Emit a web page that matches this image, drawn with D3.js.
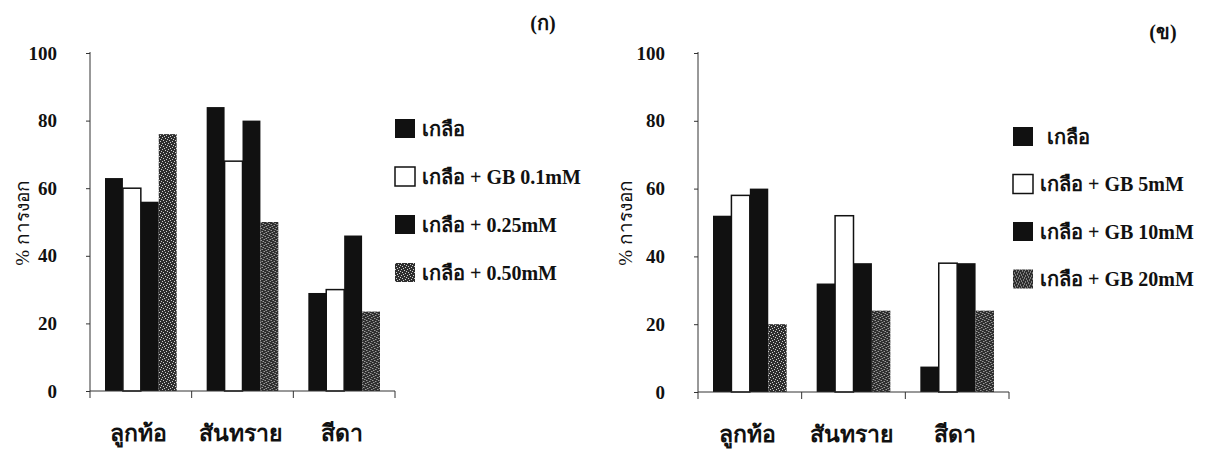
<!DOCTYPE html>
<html>
<head>
<meta charset="utf-8">
<script src="https://cdnjs.cloudflare.com/ajax/libs/d3/7.8.5/d3.min.js"></script>
<style>
  body { margin: 0; background: #fff; }
  svg { display: block; }
  text { font-family: "Liberation Serif", "DejaVu Serif", serif; font-weight: bold; fill: #111; }
</style>
</head>
<body>
<div id="data"></div>
<script>
var categories = ["ลูกท้อ", "สันทราย", "สีดา"];
var yTicks = [0, 20, 40, 60, 80, 100];

var seriesA = ["เกลือ", "เกลือ + GB 0.1mM", "เกลือ + 0.25mM", "เกลือ + 0.50mM"];
var valuesA = [
  [63, 60, 56, 76],
  [84, 68, 80, 50],
  [29, 30, 46, 23.5]
];

var seriesB = ["เกลือ", "เกลือ + GB 5mM", "เกลือ + GB 10mM", "เกลือ + GB 20mM"];
var valuesB = [
  [52, 58, 60, 20],
  [32, 52, 38, 24],
  [7.5, 38, 38, 24]
];

var svg = d3.select("#data").append("svg").attr("width", 1206).attr("height", 451);

// speckled fill for the last series
var pat = svg.append("defs").append("pattern")
    .attr("id", "speckle")
    .attr("width", 6).attr("height", 6)
    .attr("patternUnits", "userSpaceOnUse");
pat.append("rect").attr("width", 6).attr("height", 6).attr("fill", "#2e2e2e");
[[0,0],[3,1],[1,3],[4,4],[5,2],[2,5]].forEach(function(p) {
  pat.append("rect").attr("x", p[0]).attr("y", p[1]).attr("width", 1).attr("height", 1).attr("fill", "#cfcfcf");
});

var fills = ["#111", "#fff", "#111", "url(#speckle)"];

function makePanel(config) {
  var width = config.width,
      height = config.height,
      g = svg.append("g").attr("transform", "translate(" + config.left + "," + config.top + ")");

  var x0 = d3.scaleBand().domain(categories).range([0, width]);
  var x1 = d3.scaleBand().domain(d3.range(4)).range([15, x0.bandwidth() - 15]);
  var y = d3.scaleLinear().domain([0, 100]).range([height, 0]);

  g.append("g")
    .selectAll("g")
    .data(config.values)
    .enter().append("g")
      .attr("transform", function(d, i) { return "translate(" + x0(categories[i]) + ",0)"; })
    .selectAll("rect")
    .data(function(d) { return d.map(function(v, k) { return {key: k, value: v}; }); })
    .enter().append("rect")
      .attr("x", function(d) { return x1(d.key); })
      .attr("y", function(d) { return y(d.value); })
      .attr("width", x1.bandwidth())
      .attr("height", function(d) { return height - y(d.value); })
      .attr("fill", function(d) { return fills[d.key]; })
      .attr("stroke", function(d) { return d.key == 1 ? "#111" : "none"; })
      .attr("stroke-width", 1.5);

  // y axis
  var ya = g.append("g")
      .call(d3.axisLeft(y).tickValues(yTicks).tickSize(4).tickPadding(29));
  ya.select(".domain").remove();
  ya.append("line").attr("x1", 0).attr("x2", 0).attr("y1", -1).attr("y2", height + 7)
      .attr("stroke", "#333").attr("stroke-width", 1);
  ya.selectAll(".tick line").attr("stroke", "#333");
  ya.selectAll(".tick text")
      .style("font-size", "19px")
      .style("font-family", "'Liberation Serif', serif")
      .style("font-weight", "bold")
      .attr("fill", "#111");

  // x axis
  var xa = g.append("g").attr("transform", "translate(0," + height + ")");
  xa.append("line").attr("x1", 0).attr("x2", width).attr("stroke", "#333");
  xa.selectAll(".tk")
    .data(categories)
    .enter().append("line")
      .attr("x1", function(d) { return x0(d) + x0.bandwidth(); })
      .attr("x2", function(d) { return x0(d) + x0.bandwidth(); })
      .attr("y1", 0).attr("y2", 7)
      .attr("stroke", "#333");
  xa.selectAll(".cat")
    .data(categories)
    .enter().append("text")
      .attr("x", function(d) { return x0(d) + x0.bandwidth() / 2 - 2; })
      .attr("y", 50)
      .attr("text-anchor", "middle")
      .attr("font-size", 23)
      .text(function(d) { return d; });

  // y label
  svg.append("text")
      .attr("transform", "translate(" + config.labelX + "," + (config.top + 170) + ") rotate(-90)")
      .attr("text-anchor", "middle")
      .attr("dy", "0.35em")
      .attr("font-size", 19)
      .style("font-weight", "normal")
      .text("% การงอก");

  // panel title
  svg.append("text")
      .attr("x", config.titleX)
      .attr("y", config.titleY)
      .attr("text-anchor", "middle")
      .attr("font-size", 20)
      .text(config.title);

  // legend
  var legend = svg.append("g")
    .selectAll("g")
    .data(config.series)
    .enter().append("g")
      .attr("transform", function(d, i) { return "translate(" + config.legendX + "," + (config.legendY + i * config.legendStep) + ")"; });

  legend.append("rect")
      .attr("width", 20)
      .attr("height", 19)
      .attr("fill", function(d, i) { return fills[i]; })
      .attr("stroke", function(d, i) { return i == 1 ? "#111" : "none"; })
      .attr("stroke-width", 1.5);

  legend.append("text")
      .attr("x", function(d, i) { return i == 0 ? config.firstTextX : 27; })
      .attr("y", 9.5)
      .attr("dy", "0.35em")
      .attr("font-size", 20)
      .text(function(d) { return d; });
}

makePanel({values: valuesA, series: seriesA, left: 90, top: 53, width: 305, height: 338,
  labelX: 22, title: "(ก)", titleX: 543, titleY: 30,
  legendX: 395, legendY: 119, legendStep: 48, firstTextX: 27});

makePanel({values: valuesB, series: seriesB, left: 698, top: 53, width: 311, height: 339,
  labelX: 625, title: "(ข)", titleX: 1163, titleY: 39,
  legendX: 1013, legendY: 127, legendStep: 47.5, firstTextX: 34});
</script>
</body>
</html>
